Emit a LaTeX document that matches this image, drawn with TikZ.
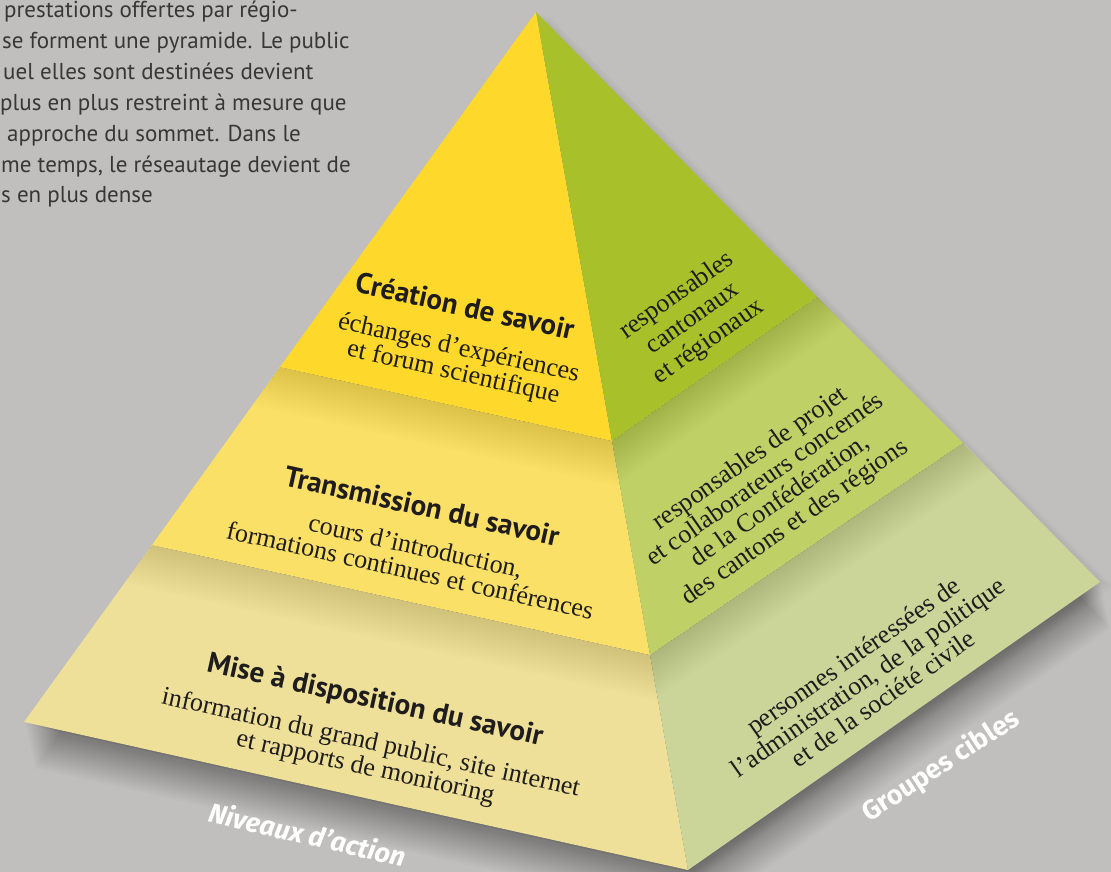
\documentclass[tikz,border=0pt]{standalone}
\usepackage{fontspec}
\setmainfont{Liberation Serif}
\newfontfamily\sansf{PT Sans}
\newfontfamily\labelf{Fira Sans}
\usetikzlibrary{calc}
\begin{document}
\begin{tikzpicture}[x=1pt,y=-1pt]
\definecolor{bg}{RGB}{192,191,189}
\definecolor{ytop}{RGB}{254,217,44}
\definecolor{ymid}{RGB}{251,224,104}
\definecolor{ybot}{RGB}{238,224,152}
\definecolor{gtop}{RGB}{168,193,42}
\definecolor{gmid}{RGB}{191,208,102}
\definecolor{gbot}{RGB}{203,213,153}
\definecolor{ink}{RGB}{30,28,28}
\definecolor{paraink}{RGB}{55,55,55}
\tikzset{
  head/.style={font=\sansf\bfseries\fontsize{29}{32}\selectfont, text=ink, inner sep=0pt},
  sub/.style={font=\fontsize{26}{25}\selectfont, text=ink, align=center, inner sep=0pt},
  rsub/.style={font=\fontsize{26}{26}\selectfont, text=ink, align=center, inner sep=0pt},
  para/.style={font=\sansf\fontsize{23}{30}\selectfont, text=paraink, anchor=base west, inner sep=0pt},
  axislabel/.style={font=\labelf\bfseries\fontsize{23}{26}\selectfont, text=white, inner sep=0pt},
}
\useasboundingbox (0,0) rectangle (1111,872);
\fill[bg] (0,0) rectangle (1111,872);

% corner points
\coordinate (A) at (536,12);
\coordinate (L) at (24,722);
\coordinate (F) at (688,870);
\coordinate (R) at (1100,582);
\coordinate (P1L) at (280,367);
\coordinate (P1F) at (612,441);
\coordinate (P2L) at (152,545);
\coordinate (P2F) at (650,655);
\coordinate (P1R) at (817,297);
\coordinate (P2R) at (963,443);
% boundary lines extended beyond the faces (for the shading strips)
\coordinate (E1a) at ($(P1L)!-0.5!(P1F)$);
\coordinate (E1b) at ($(P1L)!1.3!(P1F)$);
\coordinate (E2a) at ($(P2L)!-0.5!(P2F)$);
\coordinate (E2b) at ($(P2L)!1.3!(P2F)$);
\coordinate (E3a) at ($(P1F)!-0.3!(P1R)$);
\coordinate (E3b) at ($(P1F)!1.5!(P1R)$);
\coordinate (E4a) at ($(P2F)!-0.3!(P2R)$);
\coordinate (E4b) at ($(P2F)!1.5!(P2R)$);

% drop shadow (soft, built from faint shifted copies)
\foreach \i in {1,...,36}{
  \fill[black,opacity=0.0065]
    ($(A)+(0.3*\i,1.3*\i)$) -- ($(L)+(0.3*\i,1.3*\i)$) --
    ($(F)+(0.3*\i,1.3*\i)$) -- ($(R)+(0.3*\i,1.3*\i)$) -- cycle;
}
\foreach \i in {1,...,14}{
  \fill[black,opacity=0.005]
    ($(A)+(1.1*\i,0.4*\i)$) -- ($(L)+(1.1*\i,0.4*\i)$) --
    ($(F)+(1.1*\i,0.4*\i)$) -- ($(R)+(1.1*\i,0.4*\i)$) -- cycle;
}

% faces
\fill[ytop] (A) -- (P1L) -- (P1F) -- cycle;
\fill[ymid] (P1L) -- (P2L) -- (P2F) -- (P1F) -- cycle;
\fill[ybot] (P2L) -- (L) -- (F) -- (P2F) -- cycle;
\fill[gtop] (A) -- (P1F) -- (P1R) -- cycle;
\fill[gmid] (P1F) -- (P2F) -- (P2R) -- (P1R) -- cycle;
\fill[gbot] (P2F) -- (F) -- (R) -- (P2R) -- cycle;

% soft shading below tier boundaries
\begin{scope}
  \clip (P1L) -- (P2L) -- (P2F) -- (P1F) -- cycle;
  \foreach \i in {1,...,30}{
    \fill[black,opacity=0.0035] (E1a) -- (E1b) -- ($(E1b)+(0,1.5*\i)$) -- ($(E1a)+(0,1.5*\i)$) -- cycle;
  }
\end{scope}
\begin{scope}
  \clip (P2L) -- (L) -- (F) -- (P2F) -- cycle;
  \foreach \i in {1,...,30}{
    \fill[black,opacity=0.0035] (E2a) -- (E2b) -- ($(E2b)+(0,1.5*\i)$) -- ($(E2a)+(0,1.5*\i)$) -- cycle;
  }
\end{scope}
\begin{scope}
  \clip (P1F) -- (P2F) -- (P2R) -- (P1R) -- cycle;
  \foreach \i in {1,...,30}{
    \fill[black,opacity=0.0035] (E3a) -- (E3b) -- ($(E3b)+(0,1.6*\i)$) -- ($(E3a)+(0,1.6*\i)$) -- cycle;
  }
\end{scope}
\begin{scope}
  \clip (P2F) -- (F) -- (R) -- (P2R) -- cycle;
  \foreach \i in {1,...,30}{
    \fill[black,opacity=0.0035] (E4a) -- (E4b) -- ($(E4b)+(0,1.6*\i)$) -- ($(E4a)+(0,1.6*\i)$) -- cycle;
  }
\end{scope}

% paragraph (cut at the left edge)
\node[para] (para1) at (4,18) {prestations offertes par régio-};
\node[para] (para2) at (2,48.8) {se forment une pyramide. Le public};
\node[para] (para3) at (3,79.6) {uel elles sont destinées devient};
\node[para] (para4) at (0,110.4) {plus en plus restreint à mesure que};
\node[para] (para5) at (7,141.2) {approche du sommet. Dans le};
\node[para] (para6) at (1,172) {me temps, le réseautage devient de};
\node[para] (para7) at (1,202.8) {s en plus dense};

% left face: levels
\node[head, rotate=-12.5] (h1) at (465,306) {Création de savoir};
\node[sub, rotate=-12.5] (s1) at (456,361) {échanges d’expériences\\et forum scientifique};
\node[head, rotate=-12.5] (h2) at (422,506) {Transmission du savoir};
\node[sub, rotate=-12.5] (s2) at (413,558) {cours d’introduction,\\formations continues et conférences};
\node[head, rotate=-12.5] (h3) at (375,701) {Mise à disposition du savoir};
\node[sub, rotate=-12.5] (s3) at (368,756) {information du grand public, site internet\\et rapports de monitoring};

% right face: target groups
\node[rsub, font=\fontsize{26}{28}\selectfont, rotate=35] (r1) at (693,319) {responsables\\cantonaux\\et régionaux};
\node[rsub, rotate=35] (r2) at (773,491) {responsables de projet\\et collaborateurs concernés\\de la Confédération,\\des cantons et des régions};
\node[rsub, rotate=35] (r3) at (868,677) {personnes intéressées de\\l’administration, de la politique\\et de la société civile};

% axis labels
\node[axislabel, font=\labelf\bfseries\itshape\fontsize{27}{30}\selectfont, rotate=-13] (niv) at (308,834) {Niveaux d’action};
\node[axislabel, font=\labelf\bfseries\fontsize{27}{30}\selectfont, rotate=33] (grp) at (941,766) {Groupes cibles};
\end{tikzpicture}
\end{document}
